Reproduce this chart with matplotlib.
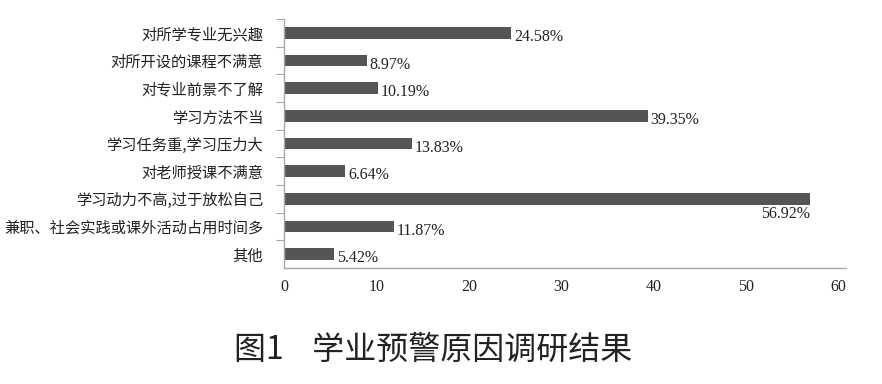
import matplotlib
matplotlib.use("Agg")
import matplotlib.pyplot as plt
import numpy as np

# survey results: reasons for academic warnings (percent)
reasons = [
    "对所学专业无兴趣",
    "对所开设的课程不满意",
    "对专业前景不了解",
    "学习方法不当",
    "学习任务重,学习压力大",
    "对老师授课不满意",
    "学习动力不高,过于放松自己",
    "兼职、社会实践或课外活动占用时间多",
    "其他",
]
percents = [24.58, 8.97, 10.19, 39.35, 13.83, 6.64, 56.92, 11.87, 5.42]
xticks = [0, 10, 20, 30, 40, 50, 60]

cjk = ["Noto Sans CJK SC", "DejaVu Sans"]
serif = ["Liberation Serif", "DejaVu Serif"]
bar_color = "#555555"
axis_color = "#a8a8a8"
text_color = "#222222"

fig = plt.figure(figsize=(8.82, 3.84), dpi=100)
ax = fig.add_axes([0.322, 0.302, 0.637, 0.6485])

y = np.arange(len(reasons))
ax.barh(y, percents, height=0.42, color=bar_color)

ax.set_xlim(0, 60.8)
ax.set_ylim(len(reasons) - 0.5, -0.5)

ax.set_xticks(xticks)
ax.set_xticklabels([str(t) for t in xticks], family=serif, fontsize=11.5, color=text_color)
ax.tick_params(axis="x", length=0, pad=8)

ax.set_yticks(y)
ax.set_yticklabels(reasons, family=cjk, fontsize=11, color=text_color)
ax.tick_params(axis="y", which="major", length=0, pad=15)
ax.set_yticks(np.arange(-0.5, len(reasons) - 1, 1.0), minor=True)
ax.tick_params(axis="y", which="minor", length=6, width=0.8, color=axis_color)

for side in ["top", "right"]:
    ax.spines[side].set_visible(False)
for side in ["left", "bottom"]:
    ax.spines[side].set_color(axis_color)
    ax.spines[side].set_linewidth(1.0)

# value labels
for yi, v in zip(y, percents):
    label = f"{v:.2f}%"
    if v == max(percents):
        ax.annotate(label, (v, yi + 0.21), xytext=(0, -1), textcoords="offset points",
                    ha="right", va="top", family=serif, fontsize=11.5, color=text_color)
    else:
        ax.annotate(label, (v, yi), xytext=(2, -3), textcoords="offset points",
                    ha="left", va="center", family=serif, fontsize=11.5, color=text_color)

fig.text(433 / 882, 1 - 350 / 384, "图1    学业预警原因调研结果", family=cjk,
         fontsize=23, color=text_color, ha="center", va="center")

fig.savefig("out.png", dpi=100, facecolor="white")
